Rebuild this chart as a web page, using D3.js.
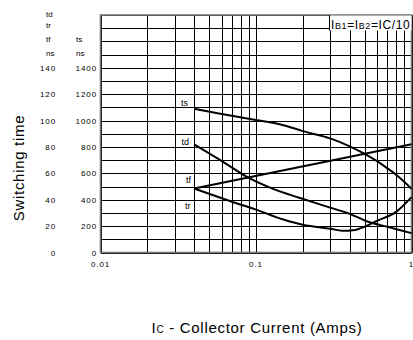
<!DOCTYPE html>
<html>
<head>
<meta charset="utf-8">
<script src="https://cdn.jsdelivr.net/npm/d3@7"></script>
<style>
  body { margin: 0; background: #fff; }
  svg { display: block; font-family: "Liberation Sans", Arial, sans-serif; }
</style>
</head>
<body>
<svg id="chart" width="413" height="340"></svg>
<script>
/*
Data: collector current (A) and switching times (ns)
td, tr, tf use the left scale; ts uses the right one
*/
var tdCurrent = [0.04, 0.06, 0.09, 0.13, 0.19, 0.3, 0.4, 0.52, 0.7, 1.0];
var tdValues  = [82, 69.5, 56.5, 48, 41.5, 34, 29.3, 23.5, 19.5, 14.7];
var trCurrent = [0.04, 0.07, 0.1, 0.15, 0.2, 0.3, 0.37, 0.42, 0.5, 0.6, 0.8, 1.0];
var trValues  = [48.5, 38.5, 32.5, 25, 21, 18, 16.4, 16.8, 19.5, 24, 31, 42];
var tfCurrent = [0.04, 1.0];
var tfValues  = [48.5, 82];
var tsCurrent = [0.04, 0.06, 0.1, 0.15, 0.2, 0.3, 0.4, 0.5, 0.6, 0.7, 0.8, 0.9, 1.0];
var tsValues  = [1090, 1050, 1005, 965, 920, 865, 805, 748, 692, 638, 588, 535, 482];

var leftTicks  = [0, 20, 40, 60, 80, 100, 120, 140];
var rightTicks = [0, 200, 400, 600, 800, 1000, 1200, 1400];
var xTickLabels = [0.01, 0.1, 1];

/*
Scales
*/
var svg = d3.select("#chart");
var x = d3.scaleLog().domain([0.01, 1]).range([100.5, 411.5]);
var yS = d3.scaleLinear().domain([0, 1800]).range([252.5, 15]);
var yL = d3.scaleLinear().domain([0, 180]).range([252.5, 15]);

/*
Grid
*/
var vGrid = [];
[0.01, 0.1].forEach(function(dec){
  for (let k = 1; k <= 9; k++) vGrid.push(dec * k);
});
vGrid.push(1);
var hGrid = d3.range(0, 1801, 100);

var grid = svg.append("g").attr("shape-rendering", "crispEdges");
grid.selectAll("line.v").data(vGrid).enter().append("line")
    .attr("x1", d => Math.round(x(d)) + 0.5).attr("x2", d => Math.round(x(d)) + 0.5)
    .attr("y1", yS(1800)).attr("y2", yS(0))
    .attr("stroke", "#000").attr("stroke-width", 1);
grid.selectAll("line.h").data(hGrid).enter().append("line")
    .attr("x1", x(0.01)).attr("x2", x(1))
    .attr("y1", d => Math.round(yS(d)) + 0.5).attr("y2", d => Math.round(yS(d)) + 0.5)
    .attr("stroke", "#000").attr("stroke-width", 1);

svg.append("rect")
   .attr("x", x(0.01)).attr("y", yS(1800))
   .attr("width", x(1) - x(0.01)).attr("height", yS(0) - yS(1800))
   .attr("fill", "none").attr("stroke", "#777").attr("stroke-width", 1.6);

/*
Condition box in the top right
*/
var box = svg.append("g");
box.append("rect").attr("x", 329).attr("y", 15.5).attr("width", 82.5).attr("height", 15)
   .attr("fill", "#fff").attr("stroke", "none");
box.append("line").attr("x1", 329.5).attr("x2", 329.5).attr("y1", 15).attr("y2", 30.5)
   .attr("stroke", "#000");
var cond = box.append("text").attr("x", 331).attr("y", 28.5).attr("font-size", 12)
   .attr("letter-spacing", 0.6);
cond.append("tspan").text("I");
cond.append("tspan").attr("font-size", 9).text("B1");
cond.append("tspan").text("=I");
cond.append("tspan").attr("font-size", 9).text("B2");
cond.append("tspan").text("=IC/10");

/*
Curves
*/
function pairs(xs, ys){ return xs.map((v, i) => [v, ys[i]]); }
var curves = [
  {pts: pairs(tsCurrent, tsValues), y: yS},
  {pts: pairs(tdCurrent, tdValues), y: yL},
  {pts: pairs(trCurrent, trValues), y: yL},
  {pts: pairs(tfCurrent, tfValues), y: yL}
];
curves.forEach(function(c){
  let line = d3.line().x(d => x(d[0])).y(d => c.y(d[1])).curve(d3.curveMonotoneX);
  svg.append("path").datum(c.pts).attr("d", line)
     .attr("fill", "none").attr("stroke", "#000").attr("stroke-width", 2);
});

var curveLabels = [
  {t: "ts", x: 181, y: 106},
  {t: "td", x: 181.5, y: 145},
  {t: "tf", x: 186, y: 183},
  {t: "tr", x: 185, y: 209}
];
svg.selectAll("text.cl").data(curveLabels).enter().append("text")
   .attr("x", d => d.x).attr("y", d => d.y).attr("font-size", 9)
   .text(d => d.t);

/*
Axes labels
*/
var small = svg.append("g").attr("font-size", 8).attr("letter-spacing", 0.9).attr("fill", "#000");
small.selectAll("text.l").data(leftTicks).enter().append("text")
     .attr("x", 56).attr("y", d => yL(d) + 3).attr("text-anchor", "end").text(d => d);
small.selectAll("text.r").data(rightTicks).enter().append("text")
     .attr("x", 97).attr("y", d => yS(d) + 3).attr("text-anchor", "end").text(d => d);
[["td", 16.7], ["tr", 27.7], ["tf", 41.7], ["ns", 56]].forEach(function(h){
  small.append("text").attr("x", 46).attr("y", h[1]).attr("letter-spacing", 0).text(h[0]);
});
[["ts", 41.7], ["ns", 56]].forEach(function(h){
  small.append("text").attr("x", 76).attr("y", h[1]).attr("letter-spacing", 0).text(h[0]);
});
small.selectAll("text.x").data(xTickLabels).enter().append("text")
     .attr("x", d => x(d)).attr("y", 267).attr("text-anchor", "middle").text(d => d);

svg.append("text")
   .attr("transform", "translate(23.5,168) rotate(-90)")
   .attr("text-anchor", "middle").attr("font-size", 15).attr("letter-spacing", 0.7)
   .text("Switching time");

var xt = svg.append("text").attr("x", 257).attr("y", 333).attr("text-anchor", "middle")
   .attr("font-size", 15).attr("letter-spacing", 0.7);
xt.append("tspan").text("I");
xt.append("tspan").attr("font-size", 10).text("C");
xt.append("tspan").text(" - Collector Current (Amps)");
</script>
</body>
</html>
